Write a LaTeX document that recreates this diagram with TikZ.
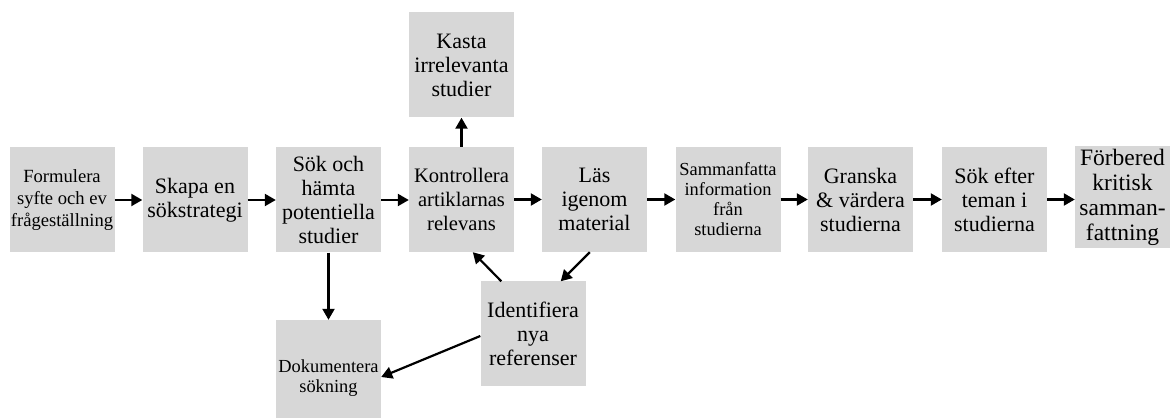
\documentclass[tikz,border=0pt]{standalone}
\usepackage{fontspec}
\setmainfont{Liberation Serif}
\usetikzlibrary{arrows.meta}
\definecolor{SRgray}{RGB}{215,215,215}
\tikzset{SRbox/.style={rectangle,fill=SRgray,inner sep=0pt,minimum width=105pt,minimum height=105pt,
           align=center,font=\fontsize{22}{24}\selectfont},
         SRsmall/.style={font=\fontsize{18.4}{20}\selectfont},
         SRarr/.style={-{Triangle[length=11pt,width=12pt]},line width=2.2pt}}

\begin{document}
\begin{tikzpicture}[x=1pt,y=-1pt]
  \useasboundingbox (0,0) rectangle (1171,419);
  % main row
  \node[SRbox,font=\fontsize{18.6}{22}\selectfont] (form) at (62,200) {Formulera\\syfte och ev\\frågeställning};
  \node[SRbox] (skapa) at (195,200) {Skapa en\\sökstrategi};
  \node[SRbox] (sok) at (328.5,200) {Sök och\\hämta\\potentiella\\studier};
  \node[SRbox,font=\fontsize{20.6}{24}\selectfont] (kontr) at (461.5,199.5) {Kontrollera\\artiklarnas\\relevans};
  \node[SRbox] (las) at (594.5,199.5) {Läs\\igenom\\material};
  \node[SRbox,SRsmall] (samm) at (728,199.5) {Sammanfatta\\information\\från\\studierna};
  \node[SRbox] (gransk) at (860.5,199.5) {Granska\\\& värdera\\studierna};
  \node[SRbox] (sokeft) at (994.5,199.5) {Sök efter\\teman i\\studierna};
  \node[SRbox,minimum width=95pt,minimum height=102pt,font=\fontsize{23.5}{25}\selectfont] (forb) at (1122.5,197.5) {Förbered\\kritisk\\samman-\\fattning};
  \foreach \a/\b in {form/skapa,skapa/sok,sok/kontr,kontr/las,las/samm,samm/gransk,gransk/sokeft,sokeft/forb}
    \draw[SRarr] (\a.east) -- (\a.east -| \b.west);
  % side boxes
  \node[SRbox] (kasta) at (461.5,65) {Kasta\\irrelevanta\\studier};
  \node[SRbox,SRsmall,minimum height=98pt] (dok) at (328.5,369) {\mbox{}\\[10pt]Dokumentera\\sökning};
  \node[SRbox] (ident) at (533,334) {Identifiera\\nya\\referenser};
  \draw[SRarr] (kontr) -- (kasta);
  \draw[SRarr] (sok) -- (dok);
  \draw[SRarr] ([xshift=21pt]ident.north west) -- ([xshift=64pt]kontr.south west);
  \draw[SRarr] ([xshift=48pt]las.south west) -- ([xshift=-25pt]ident.north east);
  \draw[SRarr] ([yshift=-2pt]ident.west) -- ([yshift=-8pt]dok.east);
\end{tikzpicture}
\end{document}
